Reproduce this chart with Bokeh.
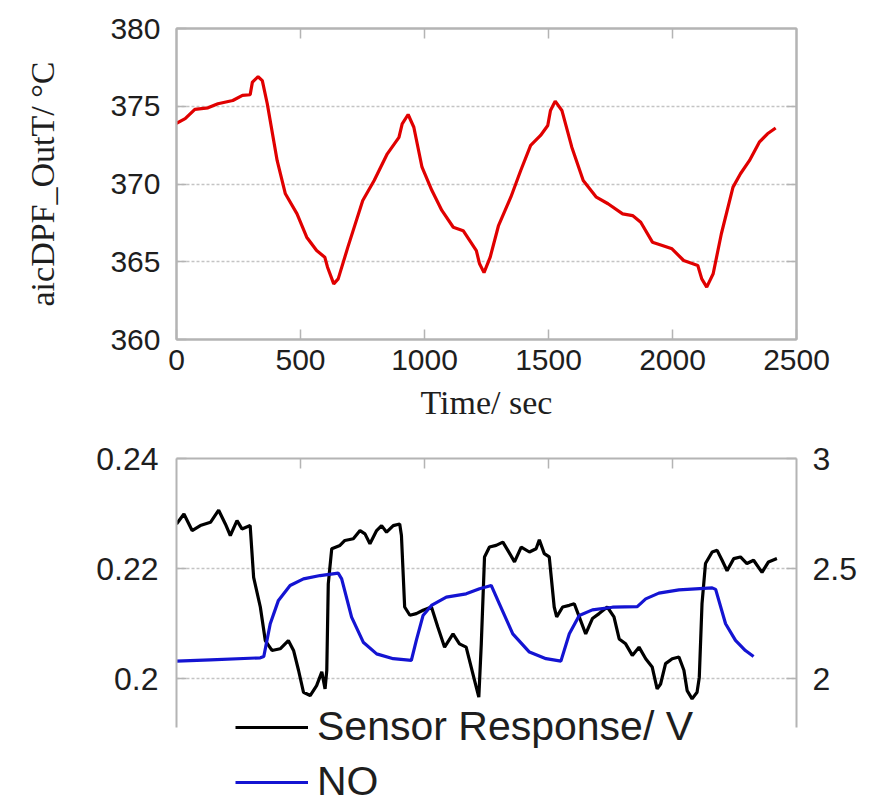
from bokeh.plotting import figure
from bokeh.models import (Range1d, LinearAxis, FixedTicker, Legend, LegendItem)
from bokeh.layouts import column
from bokeh.embed import file_html
from bokeh.resources import INLINE

# ---------------- data ----------------
temp_t = [0, 35, 74, 127, 167, 227, 266, 297, 306, 329, 346, 366, 406, 439, 486, 525, 565, 598, 609, 634,
          652, 691, 751, 797, 850, 897, 910, 934, 957, 990, 1030, 1070, 1116, 1156, 1209, 1222, 1240, 1265,
          1298, 1348, 1388, 1428, 1468, 1497, 1508, 1527, 1554, 1594, 1640, 1693, 1740, 1799, 1839, 1872,
          1919, 1959, 1998, 2045, 2102, 2118, 2138, 2164, 2197, 2244, 2274, 2310, 2350, 2383, 2416]
temp_v = [373.9, 374.2, 374.8, 374.9, 375.16, 375.37, 375.7, 375.74, 376.55, 376.9, 376.65, 375.16, 371.5,
          369.37, 368.08, 366.58, 365.72, 365.29, 364.65, 363.58, 363.9, 365.94, 368.94, 370.23, 371.94,
          373.0, 373.87, 374.47, 373.65, 371.08, 369.58, 368.3, 367.22, 367.0, 365.72, 364.87, 364.3, 365.3,
          367.3, 369.15, 370.87, 372.48, 373.12, 373.76, 374.73, 375.33, 374.73, 372.37, 370.23, 369.15,
          368.73, 368.08, 367.97, 367.54, 366.26, 366.05, 365.83, 365.08, 364.76, 363.9, 363.37, 364.23,
          366.8, 369.8, 370.66, 371.5, 372.69, 373.23, 373.6]

sensor_t = [0, 30, 63, 96, 137, 170, 197, 217, 244, 264, 297, 311, 338, 358, 385, 418, 451, 472, 492, 512,
            539, 565, 586, 599, 606, 612, 626, 659, 679, 713, 740, 760, 780, 807, 827, 847, 874, 900, 907, 920,
            941, 967, 994, 1028, 1054, 1081, 1115, 1141, 1168, 1202, 1219, 1229, 1242, 1262, 1289, 1316, 1336,
            1363, 1390, 1423, 1450, 1463, 1483, 1503, 1523, 1533, 1557, 1584, 1604, 1624, 1650, 1677, 1704,
            1737, 1764, 1785, 1811, 1838, 1865, 1892, 1918, 1938, 1952, 1972, 1999, 2026, 2046, 2059, 2079,
            2099, 2108, 2119, 2133, 2160, 2180, 2200, 2220, 2247, 2274, 2300, 2327, 2361, 2387, 2421]
sensor_v = [0.2281, 0.2299, 0.2269, 0.2278, 0.2284, 0.2306, 0.2281, 0.2260, 0.2287, 0.2272, 0.2278, 0.2184,
            0.2130, 0.2069, 0.2051, 0.2054, 0.2069, 0.2051, 0.2015, 0.1975, 0.1969, 0.1987, 0.2012, 0.1981,
            0.2015, 0.2172, 0.2236, 0.2242, 0.2251, 0.2254, 0.2269, 0.2263, 0.2245, 0.2269, 0.2278, 0.2266,
            0.2278, 0.2281, 0.2260, 0.2130, 0.2115, 0.2118, 0.2124, 0.2130, 0.2093, 0.2057, 0.2081, 0.2063,
            0.2057, 0.1996, 0.1966, 0.2063, 0.2221, 0.2239, 0.2242, 0.2248, 0.2233, 0.2212, 0.2239, 0.2230,
            0.2236, 0.2252, 0.2227, 0.2221, 0.2130, 0.2112, 0.2130, 0.2133, 0.2136, 0.2112, 0.2081, 0.2109,
            0.2118, 0.2130, 0.2112, 0.2072, 0.2063, 0.2042, 0.2057, 0.2036, 0.2021, 0.1981, 0.1990, 0.2027,
            0.2036, 0.2039, 0.2015, 0.1978, 0.1963, 0.1975, 0.2002, 0.2136, 0.2209, 0.2230, 0.2233, 0.2215,
            0.2196, 0.2218, 0.2221, 0.2209, 0.2215, 0.2193, 0.2212, 0.2218]

no_t = [0, 137, 338, 352, 378, 411, 458, 512, 579, 652, 666, 706, 753, 807, 874, 947, 967, 994, 1028, 1088,
        1168, 1222, 1269, 1302, 1356, 1423, 1490, 1550, 1584, 1624, 1677, 1758, 1858, 1892, 1945, 2026, 2160,
        2174, 2214, 2254, 2294, 2327]
no_v = [2.079, 2.085, 2.094, 2.10, 2.249, 2.355, 2.423, 2.453, 2.468, 2.479, 2.453, 2.279, 2.165, 2.112,
        2.090, 2.082, 2.173, 2.286, 2.332, 2.370, 2.385, 2.408, 2.423, 2.339, 2.203, 2.120, 2.090, 2.079,
        2.203, 2.286, 2.312, 2.324, 2.327, 2.362, 2.388, 2.403, 2.412, 2.405, 2.249, 2.173, 2.127, 2.100]

top_xticks = [0, 500, 1000, 1500, 2000, 2500]
top_yticks = [360, 365, 370, 375, 380]
bot_xticks = [500, 1000, 1500, 2000]
bot_lticks = [0.2, 0.22, 0.24]
bot_lticklabels = ["0.2", "0.22", "0.24"]
bot_rticks = [2, 2.5, 3]
bot_rticklabels = ["2", "2.5", "3"]
bot_left_span = (0.1911, 0.24)     # extent of the left axis line
bot_right_span = (1.7773, 3.0)     # extent of the right axis line

SANS = "Liberation Sans"
SERIF = "Liberation Serif"
FRAME = "#b4b4b4"
GRID = "#c4c4c4"
TXT = "#1e1e1e"


def style_axis(ax, ticks, labels=True, size="30px"):
    ax.ticker = FixedTicker(ticks=ticks)
    ax.axis_line_color = FRAME
    ax.axis_line_width = 2
    ax.major_tick_line_color = FRAME
    ax.major_tick_line_width = 1.5
    ax.major_tick_in = 10
    ax.major_tick_out = 0
    ax.minor_tick_line_color = None
    if labels:
        ax.major_label_text_font = SANS
        ax.major_label_text_font_size = size
        ax.major_label_text_color = TXT
    else:
        ax.major_label_text_font_size = "1px"
        ax.major_label_text_color = None
        ax.major_label_standoff = 0


# ---------------- top plot ----------------
p1 = figure(width=869, height=430, output_backend="svg", toolbar_location=None,
            x_range=Range1d(0, 2500), y_range=Range1d(360, 380),
            min_border_left=168, min_border_right=73, min_border_top=28, min_border_bottom=91)
p1.outline_line_color = FRAME
p1.outline_line_width = 2
p1.background_fill_color = "white"
p1.border_fill_color = "white"

style_axis(p1.xaxis[0], top_xticks)
style_axis(p1.yaxis[0], top_yticks)
p1.xaxis[0].major_label_standoff = 10
p1.yaxis[0].major_label_standoff = 16
p1.xaxis[0].axis_label = "Time/ sec"
p1.yaxis[0].axis_label = "aicDPF_OutT/ °C"
for ax in (p1.xaxis[0], p1.yaxis[0]):
    ax.axis_label_text_font = SERIF
    ax.axis_label_text_font_style = "normal"
    ax.axis_label_text_font_size = "34px"
    ax.axis_label_text_color = TXT
p1.xaxis[0].axis_label_standoff = 11
p1.yaxis[0].axis_label_standoff = 46

ax_top = LinearAxis()
style_axis(ax_top, top_xticks[1:-1], labels=False)
p1.add_layout(ax_top, "above")
ax_right = LinearAxis()
style_axis(ax_right, top_yticks[1:-1], labels=False)
p1.add_layout(ax_right, "right")

p1.xgrid.visible = False
p1.ygrid[0].ticker = FixedTicker(ticks=top_yticks[1:-1])
p1.ygrid[0].grid_line_color = GRID
p1.ygrid[0].grid_line_dash = "3 2"
p1.ygrid[0].grid_line_width = 1.5

p1.line(temp_t, temp_v, line_color="#e00000", line_width=3.2)

# ---------------- bottom plot ----------------
# frame runs to the bottom of the page so the legend sits inside it;
# the axis lines are bounded to the reference extent.
p2 = figure(width=869, height=375, output_backend="svg", toolbar_location=None,
            x_range=Range1d(0, 2500), y_range=Range1d(0.17691, 0.24),
            x_axis_location="above",
            min_border_left=176, min_border_right=71, min_border_top=28, min_border_bottom=0)
p2.extra_y_ranges = {"no": Range1d(1.42273, 3.0)}
p2.outline_line_color = None
p2.background_fill_color = "white"
p2.border_fill_color = "white"

style_axis(p2.xaxis[0], bot_xticks, labels=False)
style_axis(p2.yaxis[0], bot_lticks, size="32px")
p2.yaxis[0].major_label_overrides = dict(zip(bot_lticks, bot_lticklabels))
p2.yaxis[0].major_label_standoff = 18
p2.yaxis[0].bounds = bot_left_span

ax_r2 = LinearAxis(y_range_name="no")
style_axis(ax_r2, bot_rticks, size="32px")
ax_r2.major_label_overrides = dict(zip(bot_rticks, bot_rticklabels))
ax_r2.major_label_standoff = 16
ax_r2.bounds = bot_right_span
p2.add_layout(ax_r2, "right")

p2.xgrid.visible = False
p2.ygrid[0].ticker = FixedTicker(ticks=bot_lticks[:-1])
p2.ygrid[0].grid_line_color = GRID
p2.ygrid[0].grid_line_dash = "3 2"
p2.ygrid[0].grid_line_width = 1.5

r_sensor = p2.line(sensor_t, sensor_v, line_color="black", line_width=3.2)
r_no = p2.line(no_t, no_v, line_color="#1414d2", line_width=3.2, y_range_name="no")

legend = Legend(items=[LegendItem(label="Sensor Response/ V", renderers=[r_sensor]),
                       LegendItem(label="NO", renderers=[r_no])],
                location=(59, 0))
legend.label_text_font = SANS
legend.label_text_font_size = "41px"
legend.label_text_color = TXT
legend.glyph_width = 73
legend.glyph_height = 46
legend.label_height = 46
legend.label_standoff = 9
legend.spacing = 8
legend.padding = 0
legend.margin = 0
legend.border_line_color = None
legend.background_fill_alpha = 0
p2.add_layout(legend, "center")

layout = column(p1, p2, spacing=0)
open("out.html", "w").write(file_html(layout, INLINE))
